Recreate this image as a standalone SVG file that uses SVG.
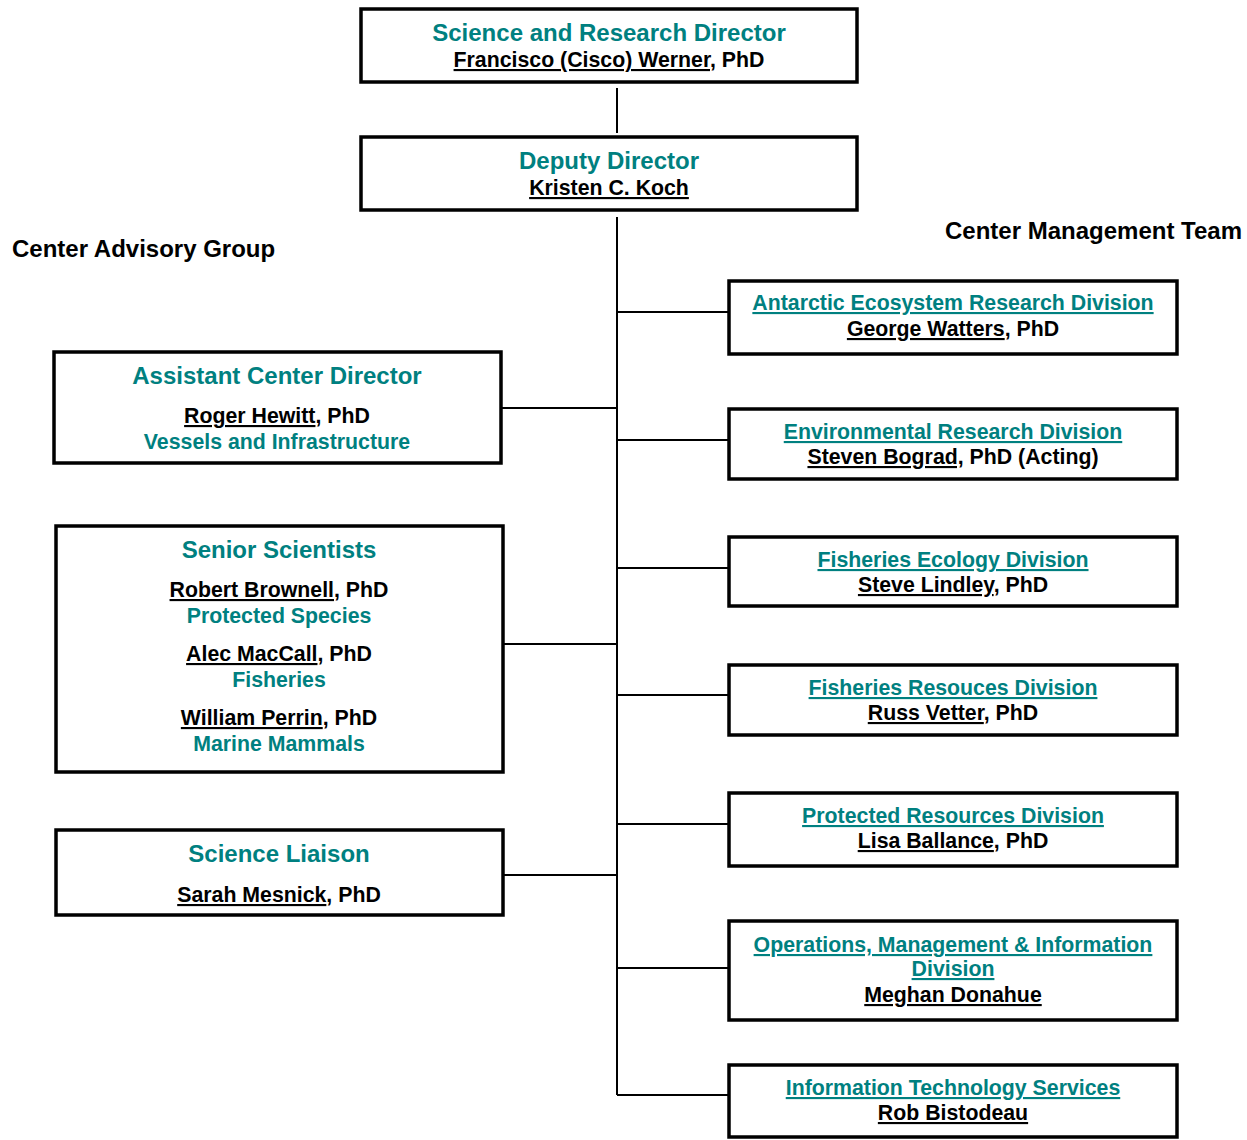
<svg xmlns="http://www.w3.org/2000/svg" width="1247" height="1140" viewBox="0 0 1247 1140">
<style>
text{font-family:"Liberation Sans",Arial,sans-serif;font-weight:bold;text-anchor:middle}
.box{fill:#fff;stroke:#000;stroke-width:3.5}
.h{fill:#008080;font-size:24px}
.t{fill:#008080;font-size:21.3px;text-decoration:underline}
.s{fill:#008080;font-size:21.3px}
.n{fill:#000;font-size:21.3px}
.u{text-decoration:underline}
.g{fill:#000;font-size:24px;text-anchor:start}
.c{stroke:#000;stroke-width:2;fill:none}
</style>
<g id="connectors">
<path class="c" d="M617,88V133M617,217V1095"/>
<path class="c" d="M617,312H728M617,440H728M617,568H728M617,695H728M617,824H728M617,968H728M617,1095H728"/>
<path class="c" d="M501,408H617M503,644H617M503,875H617"/>
</g>
<text class="g" x="12" y="257">Center Advisory Group</text>
<text class="g" x="945" y="239">Center Management Team</text>
<g id="director">
<rect class="box" x="361" y="9" width="496" height="73"/>
<text class="h" x="609" y="41">Science and Research Director</text>
<text class="n" x="609" y="67"><tspan class="u">Francisco (Cisco) Werner</tspan>, PhD</text>
</g>
<g id="deputy">
<rect class="box" x="361" y="137" width="496" height="73"/>
<text class="h" x="609" y="169">Deputy Director</text>
<text class="n" x="609" y="195"><tspan class="u">Kristen C. Koch</tspan></text>
</g>
<g id="assistant">
<rect class="box" x="54" y="352" width="447" height="111"/>
<text class="h" x="277" y="384">Assistant Center Director</text>
<text class="n" x="277" y="423"><tspan class="u">Roger Hewitt</tspan>, PhD</text>
<text class="s" x="277" y="449">Vessels and Infrastructure</text>
</g>
<g id="senior">
<rect class="box" x="56" y="526" width="447" height="246"/>
<text class="h" x="279" y="558">Senior Scientists</text>
<text class="n" x="279" y="597"><tspan class="u">Robert Brownell</tspan>, PhD</text>
<text class="s" x="279" y="623">Protected Species</text>
<text class="n" x="279" y="661"><tspan class="u">Alec MacCall</tspan>, PhD</text>
<text class="s" x="279" y="687">Fisheries</text>
<text class="n" x="279" y="725"><tspan class="u">William Perrin</tspan>, PhD</text>
<text class="s" x="279" y="751">Marine Mammals</text>
</g>
<g id="liaison">
<rect class="box" x="56" y="830" width="447" height="85"/>
<text class="h" x="279" y="862">Science Liaison</text>
<text class="n" x="279" y="902"><tspan class="u">Sarah Mesnick</tspan>, PhD</text>
</g>
<g id="antarctic">
<rect class="box" x="729" y="281" width="448" height="73"/>
<text class="t" x="953" y="310">Antarctic Ecosystem Research Division</text>
<text class="n" x="953" y="336"><tspan class="u">George Watters</tspan>, PhD</text>
</g>
<g id="environmental">
<rect class="box" x="729" y="409" width="448" height="70"/>
<text class="t" x="953" y="439">Environmental Research Division</text>
<text class="n" x="953" y="464"><tspan class="u">Steven Bograd,</tspan> PhD (Acting)</text>
</g>
<g id="ecology">
<rect class="box" x="729" y="537" width="448" height="69"/>
<text class="t" x="953" y="567">Fisheries Ecology Division</text>
<text class="n" x="953" y="592"><tspan class="u">Steve Lindley</tspan>, PhD</text>
</g>
<g id="resources">
<rect class="box" x="729" y="665" width="448" height="70"/>
<text class="t" x="953" y="695">Fisheries Resouces Division</text>
<text class="n" x="953" y="720"><tspan class="u">Russ Vetter</tspan>, PhD</text>
</g>
<g id="protected">
<rect class="box" x="729" y="793" width="448" height="73"/>
<text class="t" x="953" y="823">Protected Resources Division</text>
<text class="n" x="953" y="848"><tspan class="u">Lisa Ballance</tspan>, PhD</text>
</g>
<g id="operations">
<rect class="box" x="729" y="921" width="448" height="99"/>
<text class="t" x="953" y="952">Operations, Management &amp; Information</text>
<text class="t" x="953" y="976">Division</text>
<text class="n" x="953" y="1002"><tspan class="u">Meghan Donahue</tspan></text>
</g>
<g id="it">
<rect class="box" x="729" y="1065" width="448" height="72"/>
<text class="t" x="953" y="1095">Information Technology Services</text>
<text class="n" x="953" y="1120"><tspan class="u">Rob Bistodeau</tspan></text>
</g>
</svg>
